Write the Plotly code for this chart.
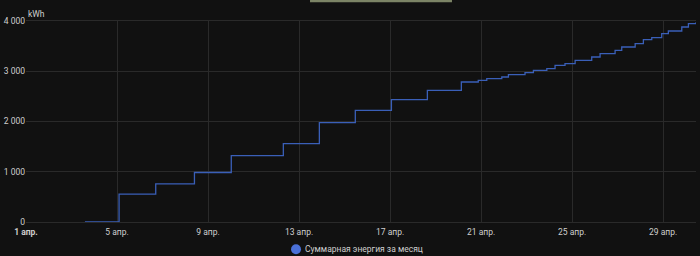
import plotly.graph_objects as go

# Data (cumulative monthly energy, kWh)
times = [
    "2024-04-03 14:10", "2024-04-05 02:10", "2024-04-06 16:50", "2024-04-08 09:40",
    "2024-04-10 00:30", "2024-04-12 07:25", "2024-04-13 21:25", "2024-04-15 11:20",
    "2024-04-17 01:25", "2024-04-18 15:20", "2024-04-20 03:10", "2024-04-20 21:00",
    "2024-04-21 06:00", "2024-04-21 21:50", "2024-04-22 04:50", "2024-04-22 22:20",
    "2024-04-23 07:10", "2024-04-23 21:20", "2024-04-24 06:00", "2024-04-24 16:30",
    "2024-04-25 03:10", "2024-04-25 20:40", "2024-04-26 05:30", "2024-04-26 21:20",
    "2024-04-27 04:20", "2024-04-27 18:30", "2024-04-28 03:10", "2024-04-28 12:00",
    "2024-04-28 22:30", "2024-04-29 05:30", "2024-04-29 19:40", "2024-04-30 02:40",
    "2024-04-30 10:40",
]
energy = [
    0, 555, 760, 985,
    1321, 1560, 1978, 2223,
    2436, 2621, 2786, 2820,
    2854, 2886, 2933, 2973,
    3019, 3053, 3118, 3152,
    3218, 3284, 3351, 3417,
    3483, 3550, 3630, 3670,
    3749, 3801, 3881, 3948,
    3974,
]
x_tickvals = ["2024-04-01", "2024-04-05", "2024-04-09", "2024-04-13",
              "2024-04-17", "2024-04-21", "2024-04-25", "2024-04-29"]
x_ticktext = ["<b>1 апр.</b>", "5 апр.", "9 апр.", "13 апр.",
              "17 апр.", "21 апр.", "25 апр.", "29 апр."]
y_tickvals = [0, 1000, 2000, 3000, 4000]
y_ticktext = ["0", "1 000", "2 000", "3 000", "4 000"]
series_name = "Суммарная энергия за месяц"

BG = "#111111"
GRID = "#2a2a2a"
TXT = "#cfcfcf"
LINE = "#3a5fb8"
MARK = "#4a70d8"
FS = 8.5

fig = go.Figure()
fig.add_trace(go.Scatter(
    x=times, y=energy, mode="lines", name=series_name,
    line=dict(color=LINE, width=1.3, shape="hv"),
    showlegend=False, hoverinfo="skip",
))

# custom legend: circle + label (tight spacing as in the reference)
lx, ly = 0.403, -0.136
rx, ry = 5 / 670, 5 / 201
fig.add_shape(type="circle", xref="paper", yref="paper",
              x0=lx - rx, x1=lx + rx, y0=ly - ry, y1=ly + ry,
              fillcolor=MARK, line=dict(width=0))
fig.add_annotation(text=series_name, xref="paper", yref="paper",
                   x=lx + rx + 2 / 670, y=ly, xanchor="left", yanchor="middle",
                   showarrow=False, font=dict(size=FS, color=TXT))

fig.add_annotation(text="kWh", xref="paper", yref="paper", x=0, y=1,
                   xanchor="left", yanchor="bottom", showarrow=False,
                   font=dict(size=FS, color=TXT))
fig.add_shape(type="rect", xref="paper", yref="paper",
              x0=0.4239, x1=0.6358, y0=1.093, y1=1.11,
              fillcolor="#7c8466", line=dict(width=0), layer="above")

fig.update_layout(
    width=700, height=256,
    margin=dict(l=26, r=4, t=21, b=34, autoexpand=False),
    paper_bgcolor=BG, plot_bgcolor=BG,
    font=dict(family="Roboto, sans-serif", size=FS, color=TXT),
    showlegend=False,
    xaxis=dict(
        type="date", range=["2024-04-01 00:00", times[-1]],
        tickvals=x_tickvals, ticktext=x_ticktext, ticks="outside", ticklen=2,
        tickcolor="rgba(0,0,0,0)",
        showgrid=True, gridcolor=GRID, gridwidth=1,
        showline=True, mirror=True, linecolor=GRID, linewidth=1,
        zeroline=False, tickfont=dict(size=FS, color=TXT), automargin=False,
    ),
    yaxis=dict(
        range=[0, 4000], tickvals=y_tickvals, ticktext=y_ticktext,
        ticks="", ticklen=0, showgrid=True, gridcolor=GRID, gridwidth=1,
        zeroline=False, showline=False, tickfont=dict(size=FS, color=TXT),
        automargin=False,
    ),
)

fig.write_html("out.html")
